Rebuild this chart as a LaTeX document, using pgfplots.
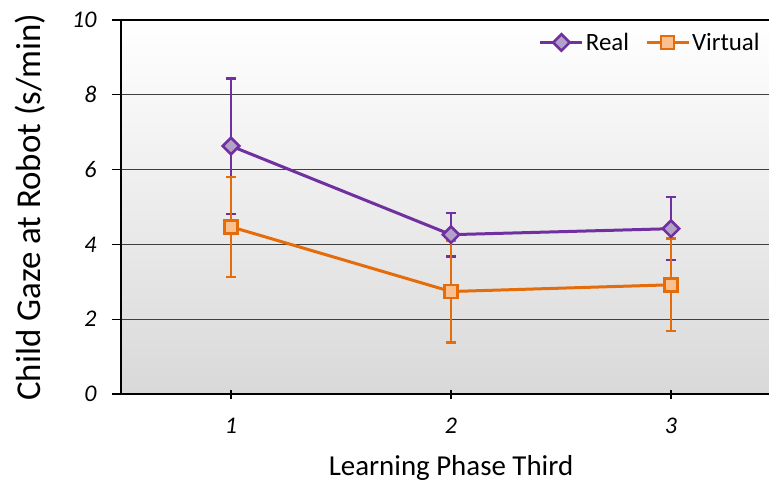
\documentclass[border=0pt]{standalone}
\usepackage{fontspec}
\setmainfont{Carlito}
\usepackage{pgfplots}
\pgfplotsset{compat=1.18}
\definecolor{realc}{HTML}{7030A0}
\definecolor{realf}{HTML}{B3A2C7}
\definecolor{virtc}{HTML}{E46C0A}
\definecolor{virtf}{HTML}{FAC090}
\begin{document}
\begin{tikzpicture}
\begin{axis}[
 scale only axis, width=660bp, height=374bp,
 xmin=0.5, xmax=3.5, ymin=0, ymax=10,
 xtick={1,2,3}, ytick={0,2,4,6,8,10},
 axis x line*=bottom, axis y line*=left,
 axis line style={line width=2bp, black, -},
 ymajorgrids, grid style={line width=1bp, black!75},
 xtick align=center, ytick align=outside,
 major tick length=9bp, tick style={line width=1.4bp,black},
 ticklabel style={font=\fontsize{24}{28}\selectfont\itshape},
 yticklabel style={xshift=-12bp},
 xticklabel style={yshift=-16bp},
 /pgf/number format/assume math mode=true,
 xlabel={Learning Phase Third}, ylabel={Child Gaze at Robot (s/min)},
 xlabel style={font=\fontsize{29}{33}\selectfont, yshift=-15bp},
 ylabel style={font=\fontsize{35}{39}\selectfont, yshift=20bp},
 axis background/.style={top color=white, bottom color=black!15},
 legend columns=2,
 legend image code/.code={\draw[mark repeat=2,mark phase=2] plot coordinates {(0bp,0bp) (21bp,0bp) (42bp,0bp)};},
 legend style={draw=none, fill=none, at={(0.971,0.94)}, anchor=east,
   font=\fontsize{25}{29}\selectfont, inner sep=0pt,
   /tikz/every even column/.append style={column sep=14bp}},
]
\addplot[color=realc, line width=3bp, mark=square*, mark size=5.8bp,
  mark options={rotate=45, fill=realf, line width=2.6bp},
  error bars/.cd, y dir=both, y explicit,
  error bar style={line width=2.4bp, realc},
  error mark options={rotate=90, line width=2.4bp, realc, mark size=5bp}]
  table[x=x, y=y, y error=e] {
x y e
1 6.63 1.81
2 4.26 0.58
3 4.42 0.84
};
\addlegendentry{Real}
\addplot[color=virtc, line width=3bp, mark=square*, mark size=6.5bp,
  mark options={fill=virtf, line width=2.6bp},
  error bars/.cd, y dir=both, y explicit,
  error bar style={line width=2.4bp, virtc},
  error mark options={rotate=90, line width=2.4bp, virtc, mark size=5bp}]
  table[x=x, y=y, y error=e] {
x y e
1 4.47 1.34
2 2.74 1.36
3 2.92 1.24
};
\addlegendentry{Virtual}
\draw[line width=2bp] (rel axis cs:0,1) -- (rel axis cs:1,1);
\coordinate (sw) at (rel axis cs:0,0);
\coordinate (ne) at (rel axis cs:1,1);
\end{axis}
\pgfresetboundingbox
\path ([xshift=-121bp,yshift=-91bp]sw) rectangle ([xshift=-12bp,yshift=20bp]ne);
\end{tikzpicture}
\end{document}
